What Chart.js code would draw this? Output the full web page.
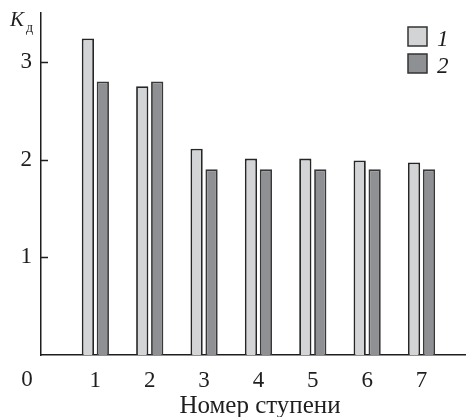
<!DOCTYPE html>
<html>
<head>
<meta charset="utf-8">
<title>Коэффициент по ступеням</title>
<script src="https://cdn.jsdelivr.net/npm/chart.js@4.4.1/dist/chart.umd.min.js"></script>
<style>
    html, body { margin: 0; padding: 0; background: #fff; }
    #wrap { width: 466px; height: 417px; position: relative; }
</style>
</head>
<body>
<div id="wrap"><canvas id="chart"></canvas></div>
<script>
// stage numbers and the two series of K_д
const steps = [1, 2, 3, 4, 5, 6, 7];
const series1 = [3.24, 2.75, 2.11, 2.01, 2.01, 1.99, 1.97];
const series2 = [2.8, 2.8, 1.9, 1.9, 1.9, 1.9, 1.9];
const seriesNames = ['1', '2'];
const yTicks = [1, 2, 3];
const xTitle = 'Номер ступени';

const ink = '#1e1e1e';
const serif = '"Liberation Serif", "DejaVu Serif", serif';
const fills = ['#d3d4d6', '#8f9094'];

// extra texts, inward tick marks and the legend
const decorations = {
    id: 'decorations',
    afterDraw(chart) {
        const ctx = chart.ctx;
        const y = chart.scales.y;
        const area = chart.chartArea;
        ctx.save();
        ctx.strokeStyle = ink;
        ctx.lineWidth = 1.5;
        yTicks.forEach(v => {
            const py = Math.round(y.getPixelForValue(v)) + 0.5;
            ctx.beginPath();
            ctx.moveTo(area.left, py);
            ctx.lineTo(area.left + 7, py);
            ctx.stroke();
        });

        ctx.fillStyle = ink;
        ctx.textBaseline = 'alphabetic';
        // origin label
        ctx.font = '23px ' + serif;
        ctx.textAlign = 'center';
        ctx.fillText('0', area.left - 14, 386);
        // axis title
        ctx.font = '25px ' + serif;
        ctx.fillText(xTitle, 260, 413);
        // K_д
        ctx.textAlign = 'left';
        ctx.font = 'italic 21px ' + serif;
        ctx.fillText('K', 10, 26);
        ctx.font = '14px ' + serif;
        ctx.fillText('д', 26, 32);

        // legend
        seriesNames.forEach((name, i) => {
            const top = 27 + i * 27;
            ctx.fillStyle = fills[i];
            ctx.fillRect(408, top, 19, 19);
            ctx.strokeStyle = '#333';
            ctx.lineWidth = 1.5;
            ctx.strokeRect(408, top, 19, 19);
            ctx.fillStyle = ink;
            ctx.font = 'italic 23px ' + serif;
            ctx.fillText(name, 437, top + 19);
        });
        ctx.restore();
    }
};

new Chart(document.getElementById('chart'), {
    type: 'bar',
    data: {
        datasets: [
            {
                label: seriesNames[0],
                data: steps.map((s, i) => ({ x: s, y: series1[i] })),
                backgroundColor: fills[0],
                borderColor: '#262626',
                borderWidth: 1.8,
                categoryPercentage: 0.55,
                barPercentage: 0.82
            },
            {
                label: seriesNames[1],
                data: steps.map((s, i) => ({ x: s, y: series2[i] })),
                backgroundColor: fills[1],
                borderColor: '#383838',
                borderWidth: 1.8,
                categoryPercentage: 0.55,
                barPercentage: 0.82
            }
        ]
    },
    options: {
        responsive: true,
        maintainAspectRatio: false,
        animation: false,
        layout: { padding: { top: 13, right: 1, left: 0, bottom: 0 } },
        plugins: {
            legend: { display: false },
            tooltip: { enabled: false }
        },
        scales: {
            x: {
                type: 'linear',
                offset: false,
                min: 0,
                max: 7.8,
                afterBuildTicks: s => { s.ticks = steps.map(v => ({ value: v })); },
                afterFit: s => { s.height = 62; s.paddingLeft = 0; s.paddingRight = 0; },
                grid: { display: false, drawTicks: false },
                border: { display: true, color: ink, width: 1.5 },
                ticks: {
                    color: ink,
                    padding: 12,
                    maxRotation: 0,
                    font: { family: serif, size: 23 }
                }
            },
            y: {
                min: 0,
                max: 3.5,
                afterBuildTicks: s => { s.ticks = yTicks.map(v => ({ value: v })); },
                afterFit: s => { s.width = 41; s.paddingTop = 0; s.paddingBottom = 0; },
                grid: { display: false, drawTicks: false },
                border: { display: true, color: ink, width: 1.5 },
                ticks: {
                    color: ink,
                    padding: 9,
                    font: { family: serif, size: 23 }
                }
            }
        }
    },
    plugins: [decorations]
});
</script>
</body>
</html>
